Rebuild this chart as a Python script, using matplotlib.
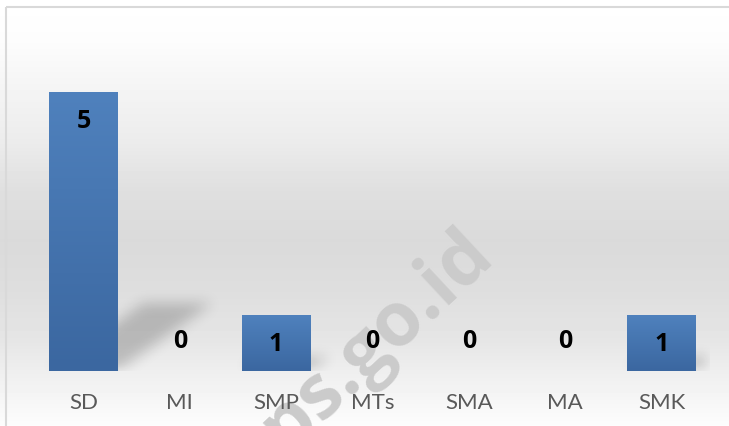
import numpy as np
import matplotlib
matplotlib.use('Agg')
import matplotlib.pyplot as plt
from matplotlib.path import Path
from matplotlib.patches import Rectangle
from matplotlib.colors import LinearSegmentedColormap

categories = ['SD', 'MI', 'SMP', 'MTs', 'SMA', 'MA', 'SMK']
values = [5, 0, 1, 0, 0, 0, 1]

plt.rcParams['font.family'] = ['Lato', 'DejaVu Sans']

W, H = 729, 426
fig = plt.figure(figsize=(W / 100, H / 100), dpi=100)

# background gradient of the chart area + thin border
bg = fig.add_axes([0, 0, 1, 1], zorder=-1)
bg.axis('off')
stops_y = [0, 40, 100, 140, 190, 240, 290, 340, 371, 400, 426]
stops_v = [1.0, 0.99, 0.95, 0.925, 0.875, 0.855, 0.87, 0.90, 0.935, 0.965, 0.99]
col = np.interp(np.arange(H), stops_y, stops_v)
grad = np.repeat(col[:, None], W, axis=1)
bg.imshow(grad, cmap='gray', vmin=0, vmax=1, aspect='auto',
          extent=[0, W, H, 0], interpolation='bilinear')
bg.add_patch(Rectangle((6, 7), W + 20, H + 20, fill=False, edgecolor='#d9d9d9', lw=1.5))
bg.set_xlim(0, W)
bg.set_ylim(H, 0)

ax = fig.add_axes([35.3 / W, (H - 371) / H, (709.7 - 35.3) / W, (371 - 36) / H])
ax.set_facecolor('none')
for s in ax.spines.values():
    s.set_visible(False)

x = np.arange(len(categories))
bw = 0.716
bars = ax.bar(x, values, width=bw, color='none', zorder=2)

# bar gradient
bar_cmap = LinearSegmentedColormap.from_list('bar', ['#3b67a0', '#4f81bd'])
for b, v in zip(bars, values):
    if v <= 0:
        continue
    im = ax.imshow(np.linspace(0, 1, 100)[:, None], cmap=bar_cmap, origin='lower',
                   aspect='auto', extent=[b.get_x(), b.get_x() + bw, 0, v], zorder=2)
    im.set_clip_path(b)

# perspective shadows (blurred)
sx, sy = 0.197, 0.244
nx, ny = 675, 335
xs = np.linspace(-0.5, 6.5, nx)
ys = np.linspace(0, 6, ny)
gx, gy = np.meshgrid(xs, ys)
pts = np.column_stack([gx.ravel(), gy.ravel()])
mask = np.zeros(gx.shape)
for xi, v in zip(x, values):
    if v <= 0:
        continue
    poly = Path([(xi - bw / 2, 0), (xi + bw / 2, 0),
                 (xi + bw / 2 + sx * v, sy * v), (xi - bw / 2 + sx * v, sy * v)])
    mask = np.maximum(mask, poly.contains_points(pts).reshape(gx.shape))


def box_blur(a, r):
    k = np.ones(2 * r + 1) / (2 * r + 1)
    a = np.apply_along_axis(lambda m: np.convolve(m, k, mode='same'), 0, a)
    a = np.apply_along_axis(lambda m: np.convolve(m, k, mode='same'), 1, a)
    return a


for _ in range(3):
    mask = box_blur(mask, 6)
shadow = np.zeros((ny, nx, 4))
shadow[..., 3] = 0.2 * mask
ax.imshow(shadow, origin='lower', aspect='auto', extent=[-0.5, 6.5, 0, 6], zorder=1)

# value labels (inside end; zero values sit just above the base)
for xi, v in zip(x, values):
    off = -21 if v > 0 else 21
    ax.annotate(str(v), (xi, v), xytext=(0, off), textcoords='offset points',
                ha='center', va='center', fontsize=18, fontweight='bold',
                family='Open Sans', color='black', zorder=4)

ax.set_xlim(-0.5, 6.5)
ax.set_ylim(0, 6)
ax.set_yticks([])
ax.set_xticks(x, categories)
ax.tick_params(axis='x', length=0, pad=16, labelsize=16, labelcolor='#595959')

# watermark
ax.text(360 / W, 1 - 357 / H, 'bps.go.id', transform=fig.transFigure,
        rotation=43, rotation_mode='anchor', ha='center', va='center',
        fontsize=54, fontweight='bold', family='Open Sans',
        color='#cbcbcb', zorder=1.5)

fig.savefig('out.png', dpi=100)
